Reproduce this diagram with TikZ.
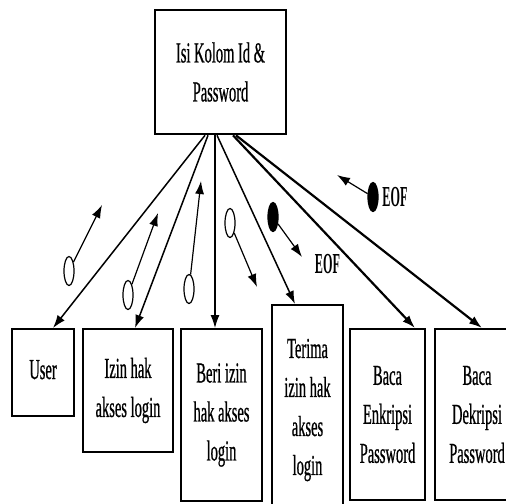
\documentclass[tikz,border=0pt]{standalone}
\usepackage{fontspec}
\setmainfont[FakeStretch=0.5,FakeBold=0.6]{Liberation Serif}
\newfontfamily\eoffont[FakeStretch=0.42]{Liberation Serif}
\usepackage{tikz}
\usetikzlibrary{arrows.meta,shapes.geometric,calc}

\begin{document}
\begin{tikzpicture}[x=0.5pt,y=-0.5pt,
  kotak/.style={draw,line width=1pt,align=center,inner sep=0pt,font=\fontsize{14.5}{19.5}\selectfont},
  alur/.style={-{Latex[length=6.5pt,width=4.5pt]},line width=0.75pt},
  datakopel/.style={draw,ellipse,line width=0.6pt,minimum width=5pt,minimum height=14.5pt,inner sep=0pt},
  kontrolkopel/.style={datakopel,fill=black},
  panah/.style={-{Latex[length=6.5pt,width=4.5pt]},line width=0.6pt},
  eof/.style={inner sep=0pt,font=\eoffont\bfseries\fontsize{14.5}{14.5}\selectfont}]
\useasboundingbox (0,0) rectangle (506,503);

% modul atas
\node[kotak,line width=1.3pt,minimum width=65.5pt,minimum height=62pt] (isi) at (220.5,72) {Isi Kolom Id \&\\Password};

% modul bawah
\node[kotak,minimum width=31pt,minimum height=43.5pt] (user) at (43,372.5) {\raisebox{3pt}{User}};
\node[kotak,minimum width=45pt,minimum height=61.5pt] (izin) at (128,390.5) {Izin hak\\akses login};
\node[kotak,minimum width=40.5pt,minimum height=86pt] (beri) at (221.5,415) {Beri izin\\hak akses\\login};
\node[kotak,minimum width=35.5pt,minimum height=105pt] (terima) at (307.5,410) {Terima\\izin hak\\akses\\login};
\node[kotak,minimum width=37.5pt,minimum height=85.5pt] (enkripsi) at (387.5,414.5) {Baca\\Enkripsi\\Password};
\node[kotak,minimum width=42pt,minimum height=85.5pt] (dekripsi) at (477,414.5) {Baca\\Dekripsi\\Password};

% alur panggil
\draw[alur] ($(isi.south)+(-15.5,0)$) -- ($(user.north)+(10,0)$);
\draw[alur] ($(isi.south)+(-12.5,0)$) -- ($(izin.north)+(7,0)$);
\draw[alur,line width=0.6pt] ($(isi.south)+(-5.5,0)$) -- ($(beri.north)+(-6.5,0)$);
\draw[alur] ($(isi.south)+(-3.5,0)$) -- ($(terima.north)+(-12.5,0)$);
\draw[alur,line width=1.1pt] ($(isi.south)+(12.5,0)$) -- ($(enkripsi.north)+(27.5,0)$);
\draw[alur,line width=1.1pt] ($(isi.south)+(15.5,0)$) -- ($(dekripsi.north)+(5,0)$);

% kopel data dan kontrol
\node[datakopel] (d1) at (69,271) {};
\coordinate (p1) at (102,205);
\draw[panah] (d1) -- (p1);
\node[datakopel] (d2) at (128,295) {};
\coordinate (p2) at (158,213);
\draw[panah] (d2) -- (p2);
\node[datakopel] (d3) at (189,289) {};
\coordinate (p3) at (201,181);
\draw[panah] (d3) -- (p3);
\node[datakopel] (d4) at (230,223) {};
\coordinate (p4) at (257,287);
\draw[panah] (d4) -- (p4);
\node[kontrolkopel] (k1) at (273,217) {};
\coordinate (p5) at (302,257);
\draw[panah] (k1) -- (p5);
\node[eof] (eof1) at (327.5,264) {EOF};
\node[kontrolkopel] (k2) at (373,197) {};
\coordinate (p6) at (337,175);
\draw[panah] (k2) -- (p6);
\node[eof] (eof2) at (395,197) {EOF};
\end{tikzpicture}
\end{document}
